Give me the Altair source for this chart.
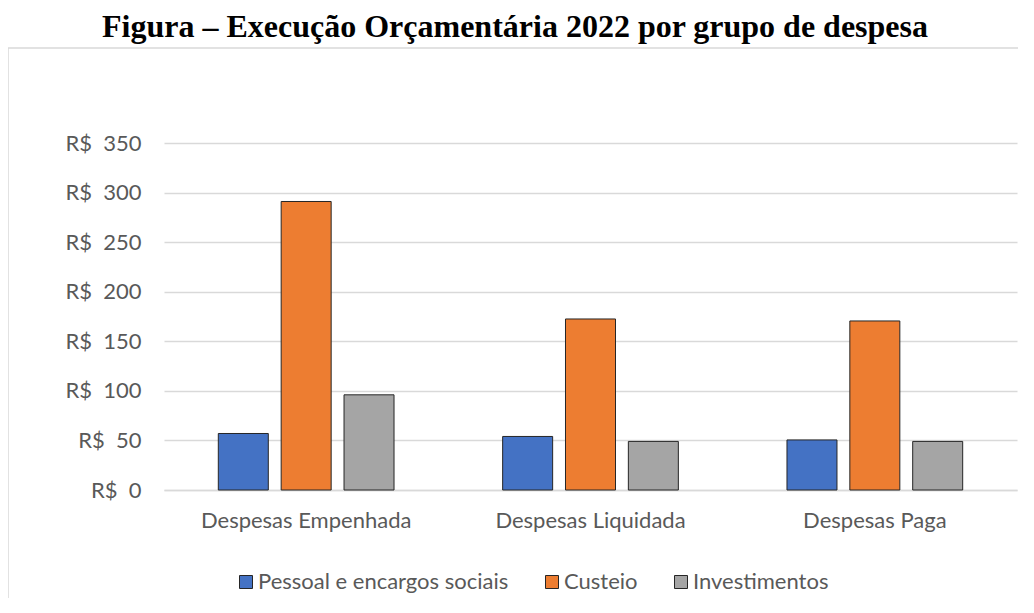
import altair as alt
import pandas as pd

categories = ["Despesas Empenhada", "Despesas Liquidada", "Despesas Paga"]
series = ["Pessoal e encargos sociais", "Custeio", "Investimentos"]
pessoal = [57.0, 54.0, 50.5]
custeio = [291.0, 172.5, 170.5]
investimentos = [96.0, 49.0, 49.0]
colors = ["#4472C4", "#ED7D31", "#A5A5A5"]
y_ticks = [0, 50, 100, 150, 200, 250, 300, 350]
title_text = "Figura – Execução Orçamentária 2022 por grupo de despesa"

rows = []
for i, c in enumerate(categories):
    for s, vals in zip(series, [pessoal, custeio, investimentos]):
        rows.append({"categoria": c, "grupo": s, "valor": vals[i]})
df = pd.DataFrame(rows)

FONT = "Lato"
FS = 22
W, H = 853, 347

bars = alt.Chart(df).mark_bar(stroke="#262626", strokeWidth=1).encode(
    x=alt.X("categoria:N", sort=categories,
            scale=alt.Scale(paddingInner=0.382, paddingOuter=0.191),
            axis=alt.Axis(title=None, labelAngle=0, ticks=False, domain=True,
                          domainColor="#d9d9d9", domainWidth=1.5,
                          labelFont=FONT, labelFontSize=FS, labelColor="#595959",
                          labelPadding=20, labelLimit=0)),
    xOffset=alt.XOffset("grupo:N", sort=series,
                        scale=alt.Scale(paddingInner=0.2045, paddingOuter=0)),
    y=alt.Y("valor:Q", scale=alt.Scale(domain=[0, 350], nice=False),
            axis=alt.Axis(title=None, values=y_ticks, domain=False, ticks=False,
                          labelExpr="'R$\u00a0 ' + datum.value",
                          gridColor="#d9d9d9", gridWidth=1.5,
                          labelFont=FONT, labelFontSize=FS, labelColor="#595959",
                          labelPadding=23, labelLimit=0)),
    color=alt.Color("grupo:N", sort=series,
                    scale=alt.Scale(domain=series, range=colors),
                    legend=alt.Legend(title=None, orient="none", direction="horizontal",
                                      legendX=71, legendY=428,
                                      symbolType="square", symbolSize=169,
                                      symbolStrokeColor="#262626", symbolStrokeWidth=1,
                                      labelFont=FONT, labelFontSize=FS, labelColor="#595959",
                                      labelOffset=1, columnPadding=32, labelLimit=0)),
)

title = alt.Chart(pd.DataFrame({"t": [title_text]})).mark_text(
    font="Liberation Serif", fontWeight="bold", fontSize=32, color="#000000",
    baseline="top", align="center"
).encode(text="t:N", x=alt.value(351), y=alt.value(-131))

frame = alt.Chart(pd.DataFrame({"a": [0]})).mark_rect(
    fillOpacity=0, stroke="#d9d9d9", strokeWidth=1.5
).encode(x=alt.value(-156), x2=alt.value(1000), y=alt.value(-95), y2=alt.value(700))

chart = alt.layer(frame, bars, title).properties(
    width=W, height=H,
    autosize=alt.AutoSizeParams(type="none"),
    padding={"left": 156, "top": 135, "right": 1, "bottom": 108},
).configure_view(stroke=None)

chart.save("out.html", embed_options={"renderer": "svg", "actions": False})
